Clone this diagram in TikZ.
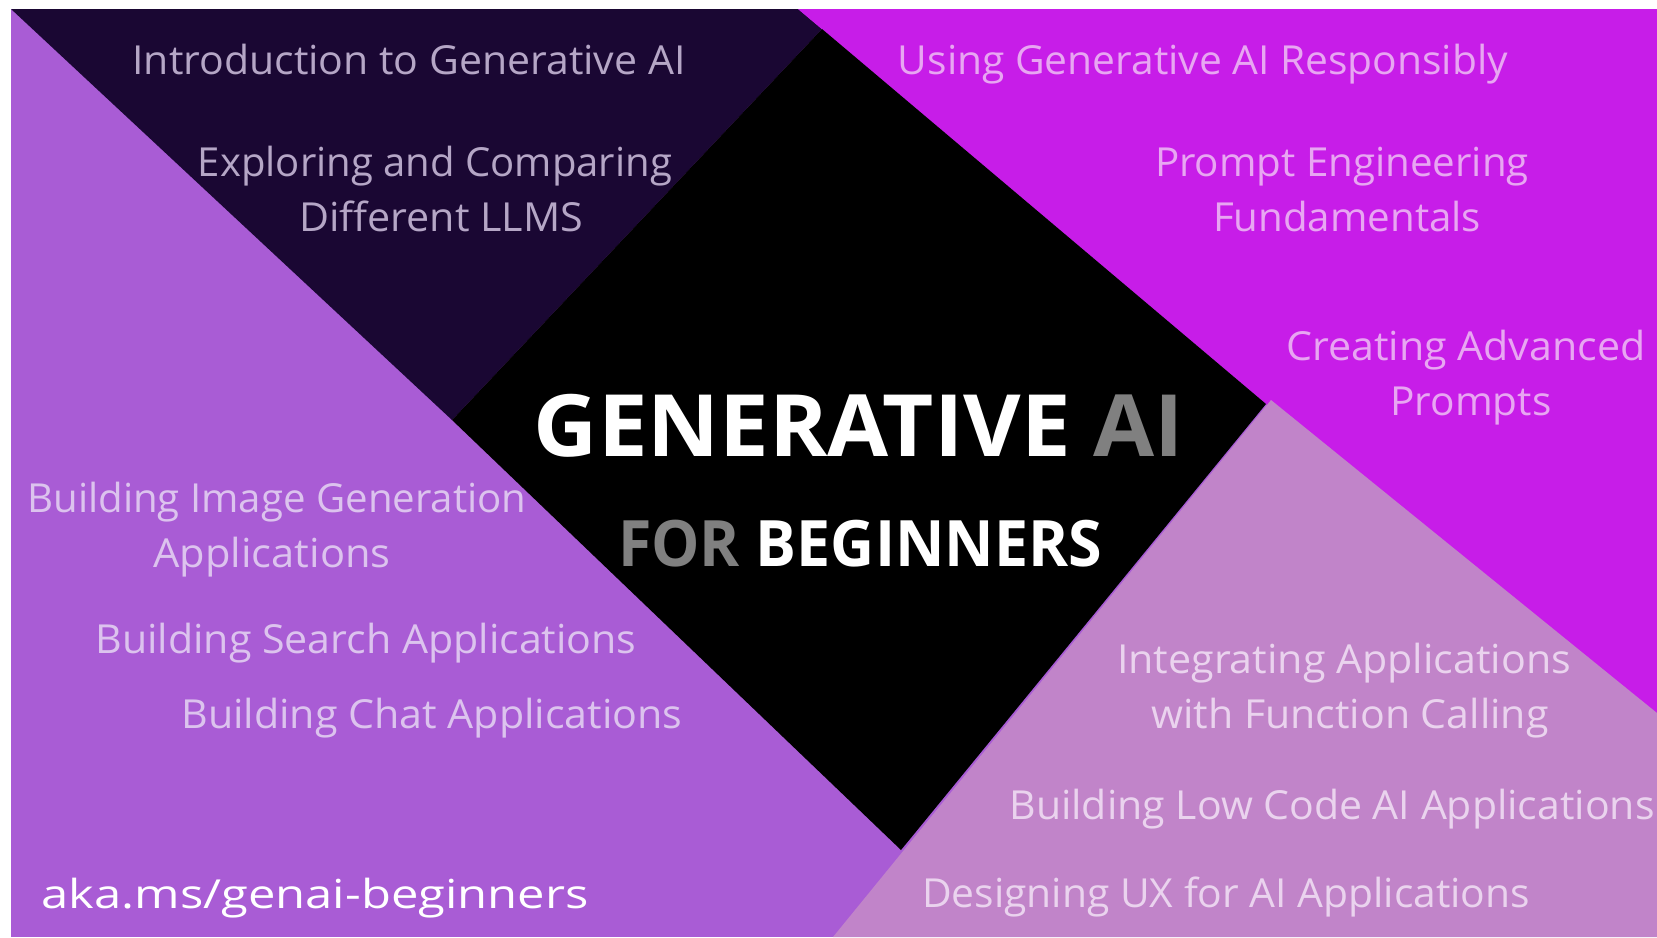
\documentclass[tikz,border=0pt]{standalone}
\usepackage{fontspec}
\usepackage{graphicx}
\setmainfont{Open Sans}
\definecolor{leftpurple}{HTML}{A95CD5}
\definecolor{darkpurple}{HTML}{1A0733}
\definecolor{magentabg}{HTML}{C71DE8}
\definecolor{lilacbg}{HTML}{C184C9}
\definecolor{txtdark}{HTML}{B5A6C6}
\definecolor{txtmag}{HTML}{E8A6F2}
\definecolor{txtleft}{HTML}{DCC3EE}
\definecolor{txtlilac}{HTML}{EAD3EE}
\definecolor{titlegray}{HTML}{808080}
\newcommand\fitw[2]{\resizebox{#1pt}{\height}{#2}}
\tikzset{
  lbl/.style={anchor=base, inner sep=0pt, font=\fontsize{40}{48}\selectfont},
  ttl/.style={anchor=base, inner sep=0pt, font=\fontsize{86}{100}\selectfont\bfseries},
  ttlsmall/.style={anchor=base, inner sep=0pt, font=\fontsize{64}{76}\selectfont\bfseries},
}
\begin{document}
\begin{tikzpicture}[x=1pt,y=-1pt]
\useasboundingbox (0,0) rectangle (1657,937);
% background and regions
\fill[white] (0,0) rectangle (1657,937);
\fill[leftpurple] (11,9) rectangle (1657,937);
\fill[darkpurple] (11,9) -- (798,9) -- (822,29) -- (452,420) -- cycle;
\fill[magentabg] (798,9) -- (1657,9) -- (1657,713) -- (1266,404) -- cycle;
\fill[black] (452,420) -- (822,29) -- (1266,404) -- (901,850) -- cycle;
\fill[lilacbg] (1271,400) -- (1657,713) -- (1657,937) -- (833,937) -- cycle;
% top-left (dark)
\node[lbl, text=txtdark] (intro) at (409,74) {\fitw{553}{Introduction to Generative AI}};
\node[lbl, text=txtdark] (explore1) at (435,176) {\fitw{474}{Exploring and Comparing}};
\node[lbl, text=txtdark] (explore2) at (441,231) {\fitw{284}{Different LLMS}};
% top-right (magenta)
\node[lbl, text=txtmag] (using) at (1203,74) {\fitw{610}{Using Generative AI Responsibly}};
\node[lbl, text=txtmag] (prompt1) at (1342,176) {\fitw{374}{Prompt Engineering}};
\node[lbl, text=txtmag] (prompt2) at (1347,231) {\fitw{268}{Fundamentals}};
\node[lbl, text=txtmag] (adv1) at (1466,360) {\fitw{359}{Creating Advanced}};
\node[lbl, text=txtmag] (adv2) at (1471,415) {\fitw{161}{Prompts}};
% left (purple)
\node[lbl, text=txtleft] (img1) at (277,512) {\fitw{499}{Building Image Generation}};
\node[lbl, text=txtleft] (img2) at (272,567) {\fitw{237}{Applications}};
\node[lbl, text=txtleft] (search) at (366,653) {\fitw{541}{Building Search Applications}};
\node[lbl, text=txtleft] (chat) at (432,728) {\fitw{501}{Building Chat Applications}};
\node[lbl, text=white] (url) at (315,908) {\fitw{547}{aka.ms/genai-beginners}};
% bottom-right (lilac)
\node[lbl, text=txtlilac] (func1) at (1344,673) {\fitw{454}{Integrating Applications}};
\node[lbl, text=txtlilac] (func2) at (1350,728) {\fitw{397}{with Function Calling}};
\node[lbl, text=txtlilac] (lowcode) at (1332,819) {\fitw{645}{Building Low Code AI Applications}};
\node[lbl, text=txtlilac] (ux) at (1226,907) {\fitw{608}{Designing UX for AI Applications}};
% title
\node[ttl, text=white] (title) at (859,456) {\fitw{650}{GENERATIVE \textcolor{titlegray}{AI}}};
\node[ttlsmall, text=white] (subtitle) at (860,566) {\fitw{484}{\textcolor{titlegray}{FOR} BEGINNERS}};
\end{tikzpicture}
\end{document}
